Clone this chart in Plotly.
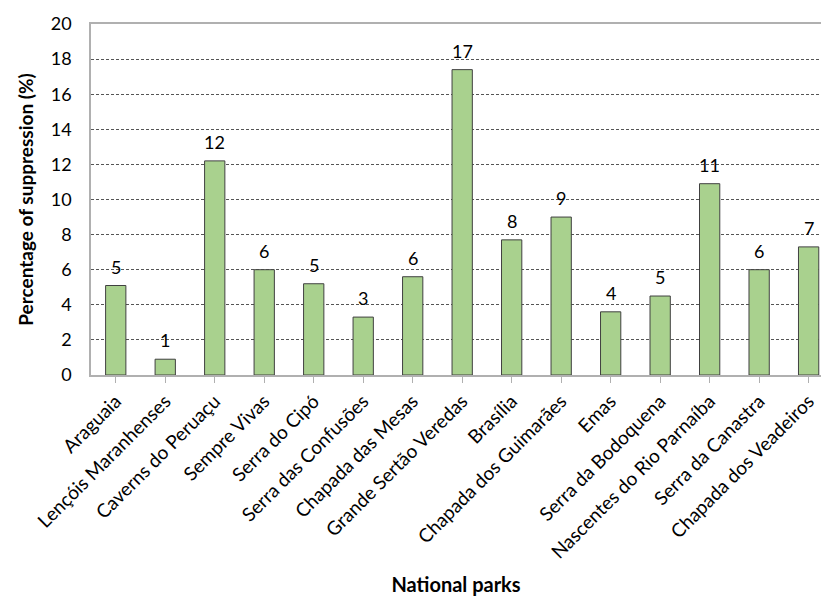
import plotly.graph_objects as go

parks = ["Araguaia", "Lençóis Maranhenses", "Caverns do Peruaçu", "Sempre Vivas",
         "Serra do Cipó", "Serra das Confusões", "Chapada das Mesas",
         "Grande Sertão Veredas", "Brasília", "Chapada dos Guimarães", "Emas",
         "Serra da Bodoquena", "Nascentes do Rio Parnaíba", "Serra da Canastra",
         "Chapada dos Veadeiros"]
values = [5.1, 0.9, 12.2, 6.0, 5.2, 3.3, 5.6, 17.4, 7.7, 9.0, 3.6, 4.5, 10.9, 6.0, 7.3]
labels = ["5", "1", "12", "6", "5", "3", "6", "17", "8", "9", "4", "5", "11", "6", "7"]
y_ticks = [0, 2, 4, 6, 8, 10, 12, 14, 16, 18, 20]

FONT = "Lato, Carlito, Calibri, sans-serif"

fig = go.Figure()
fig.add_trace(go.Bar(
    x=list(range(len(parks))), y=values,
    marker=dict(color="#A9D18E", line=dict(color="#404040", width=1)),
    width=0.41,
))

for i, (v, t) in enumerate(zip(values, labels)):
    fig.add_annotation(x=i, y=v, text=t, showarrow=False, yanchor="bottom",
                       yshift=6, font=dict(family=FONT, size=18, color="#000000"))

fig.update_layout(
    width=821, height=596,
    margin=dict(l=91, r=0, t=24, b=221),
    paper_bgcolor="white", plot_bgcolor="white",
    showlegend=False,
    font=dict(family=FONT, size=18, color="#000000"),
    xaxis=dict(
        tickmode="array", tickvals=list(range(len(parks))), ticktext=parks,
        range=[-0.5, 14.25], tickangle=-45, automargin=False,
        showline=True, linecolor="#B0B0B0", linewidth=1.5, mirror=True,
        ticks="outside", ticklen=6, tickcolor="#B0B0B0", tickson="boundaries",
        showgrid=False, zeroline=False,
        tickfont=dict(family=FONT, size=19),
        title=dict(text="<b>National parks</b>", font=dict(family=FONT, size=20), standoff=20),
    ),
    yaxis=dict(
        range=[0, 20], tickvals=y_ticks, automargin=False,
        showline=True, linecolor="#B0B0B0", linewidth=1.5,
        showgrid=True, gridcolor="#555555", griddash="3px,2px", gridwidth=0.8,
        zeroline=False, ticks="", ticklabelstandoff=14,
        tickfont=dict(family=FONT, size=18),
        title=dict(text="<b>Percentage of suppression (%)</b>", font=dict(family=FONT, size=19), standoff=12),
    ),
)

fig.write_html("out.html")
